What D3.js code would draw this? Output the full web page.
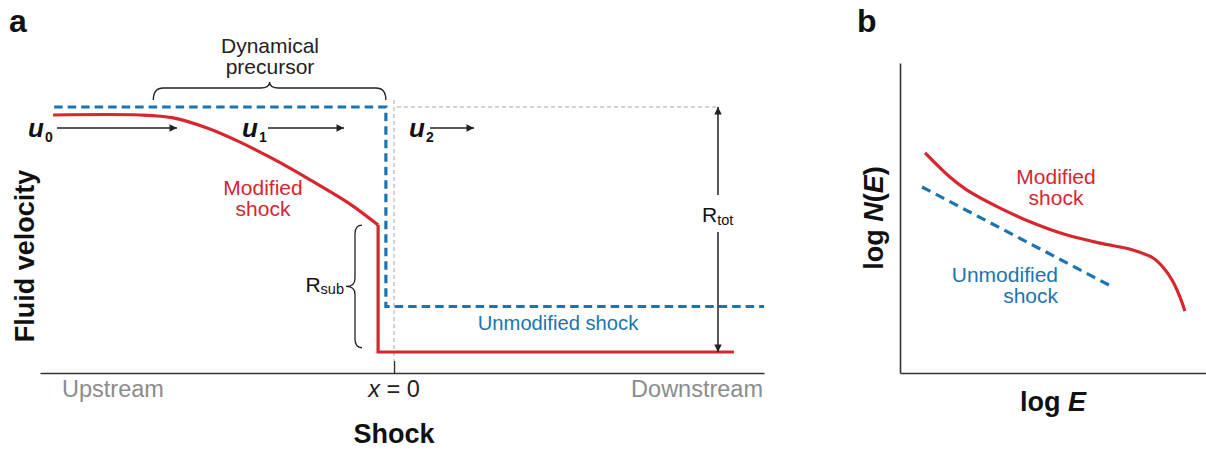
<!DOCTYPE html>
<html>
<head>
<meta charset="utf-8">
<script src="https://cdn.jsdelivr.net/npm/d3@7"></script>
<style>
  html, body { margin: 0; padding: 0; background: #fff; }
  svg { display: block; font-family: "Liberation Sans", Arial, sans-serif; }
</style>
</head>
<body>
<svg id="chart" width="1206" height="450"></svg>
<script>
// ---------------- DATA ----------------
// Panel a: fluid velocity (u / u0) vs position (shock at x = 0)
const modifiedX   = [-0.963, -0.718, -0.624, -0.528, -0.435, -0.336, -0.237, -0.124, -0.045];
const modifiedU   = [0.970, 0.970, 0.959, 0.921, 0.868, 0.801, 0.726, 0.635, 0.556];
const modDownX    = [-0.045, -0.045, 0.96];
const modDownU    = [0.556, 0.079, 0.079];
const unmodX      = [-0.96, -0.023, -0.023, 1.045];
const unmodU      = [1.0, 1.0, 0.25, 0.25];
const xAxisLabels = ["Upstream", "x = 0", "Downstream"];
const velocityLabels = ["u", "u", "u"];
const velocitySubs   = ["0", "1", "2"];

// Panel b: log N(E) vs log E
const specE      = [0.82, 1.63, 2.19, 3.27, 4.35, 5.46, 6.54, 7.61, 8.27, 8.59, 8.89, 9.15, 9.31];
const specMod    = [7.10, 6.32, 5.90, 5.32, 4.84, 4.45, 4.19, 3.97, 3.71, 3.42, 3.00, 2.45, 2.00];
const specUnmodE = [0.72, 6.96];
const specUnmodN = [6.0, 2.77];

// ---------------- STYLE ----------------
const RED = "#d7262e", BLUE = "#1b74b0", INK = "#222", GRAY = "#8c8c8c";
const svg = d3.select("#chart");

const defs = svg.append("defs");
defs.append("marker").attr("id", "arr").attr("viewBox", "0 0 10 10")
  .attr("refX", 10).attr("refY", 5).attr("markerWidth", 13).attr("markerHeight", 7.5)
  .attr("markerUnits", "userSpaceOnUse").attr("orient", "auto-start-reverse")
  .append("path").attr("d", "M0,0 L10,5 L0,10 z").attr("fill", INK);

// ================= PANEL A =================
const xA = d3.scaleLinear().domain([-1, 1.045]).range([40, 764]);
const yA = d3.scaleLinear().domain([0, 1]).range([373, 107]);

const gA = svg.append("g");

const axA = gA.append("g").attr("transform", `translate(0,${yA(0)})`)
  .call(d3.axisBottom(xA).tickValues([0]).tickSizeInner(-12).tickSizeOuter(0).tickFormat(""));
axA.select(".domain").attr("stroke", "#333").attr("stroke-width", 1.6);
axA.selectAll(".tick line").attr("stroke", "#333").attr("stroke-width", 1.4);

gA.append("line").attr("x1", xA(0)).attr("x2", xA(0)).attr("y1", yA(1) - 7).attr("y2", yA(0) - 12)
  .attr("stroke", "#a8a8a8").attr("stroke-width", 1).attr("stroke-dasharray", "4,3");
gA.append("line").attr("x1", xA(0) + 3).attr("x2", 717).attr("y1", yA(1)).attr("y2", yA(1))
  .attr("stroke", "#a8a8a8").attr("stroke-width", 1).attr("stroke-dasharray", "4,3");

const lineA = d3.line().x(d => xA(d[0])).y(d => yA(d[1]));
gA.append("path").datum(d3.zip(unmodX, unmodU)).attr("d", lineA)
  .attr("fill", "none").attr("stroke", BLUE).attr("stroke-width", 3.2)
  .attr("stroke-dasharray", "8.5,5");

gA.append("path").datum(d3.zip(modifiedX, modifiedU))
  .attr("d", d3.line().x(d => xA(d[0])).y(d => yA(d[1])).curve(d3.curveCatmullRom))
  .attr("fill", "none").attr("stroke", RED).attr("stroke-width", 3.2);
gA.append("path").datum(d3.zip(modDownX, modDownU)).attr("d", lineA)
  .attr("fill", "none").attr("stroke", RED).attr("stroke-width", 3.2).attr("stroke-linejoin", "miter");

const axY = 397;
gA.append("text").attr("x", 62).attr("y", axY).attr("font-size", 23.5).attr("fill", GRAY).text(xAxisLabels[0]);
const x0t = gA.append("text").attr("x", xA(0)).attr("y", axY).attr("font-size", 23.5).attr("fill", INK)
  .attr("text-anchor", "middle");
x0t.append("tspan").attr("font-style", "italic").text("x");
x0t.append("tspan").text(" = 0");
gA.append("text").attr("x", 763).attr("y", axY).attr("font-size", 23.5).attr("fill", GRAY)
  .attr("text-anchor", "end").text(xAxisLabels[2]);
gA.append("text").attr("x", xA(0)).attr("y", 443).attr("font-size", 27).attr("font-weight", "bold")
  .attr("text-anchor", "middle").attr("fill", "#111").text("Shock");
gA.append("text").attr("transform", "translate(34,256) rotate(-90)").attr("font-size", 27)
  .attr("font-weight", "bold").attr("text-anchor", "middle").attr("fill", "#111").text("Fluid velocity");

gA.append("text").attr("x", 9).attr("y", 32).attr("font-size", 32).attr("font-weight", "bold")
  .attr("fill", "#111").text("a");

const uArrowY = 128;
const uLabels = [
  { tx: 28, x1: 57, x2: 177 },
  { tx: 242, x1: 268, x2: 344 },
  { tx: 409, x1: 430, x2: 474 }
];
uLabels.forEach((u, i) => {
  const t = gA.append("text").attr("x", u.tx).attr("y", 137).attr("fill", "#111");
  t.append("tspan").attr("font-size", 26).attr("font-weight", "bold").attr("font-style", "italic").text(velocityLabels[i]);
  t.append("tspan").attr("font-size", 14).attr("font-weight", "bold").attr("dy", 5).attr("dx", 1).text(velocitySubs[i]);
  gA.append("line").attr("x1", u.x1).attr("x2", u.x2).attr("y1", uArrowY).attr("y2", uArrowY)
    .attr("stroke", INK).attr("stroke-width", 1.6).attr("marker-end", "url(#arr)");
});

const ann = (g, x, y, lines, color, size, anchor) => {
  lines.forEach((s, i) => g.append("text").attr("x", x).attr("y", y + i * 21)
    .attr("font-size", size).attr("fill", color).attr("text-anchor", anchor || "middle").text(s));
};
ann(gA, 270, 53, ["Dynamical", "precursor"], INK, 21);
ann(gA, 263, 195, ["Modified", "shock"], RED, 21);
ann(gA, 558, 330, ["Unmodified shock"], BLUE, 20.2);

function hBrace(x1, x2, yb, yh, yt, r, r2) {
  const xm = (x1 + x2) / 2;
  return `M${x1},${yb} Q${x1},${yh} ${x1 + r},${yh} L${xm - r2},${yh} Q${xm},${yh} ${xm},${yt}` +
         ` Q${xm},${yh} ${xm + r2},${yh} L${x2 - r},${yh} Q${x2},${yh} ${x2},${yb}`;
}
function vBrace(y1, y2, xb, xh, xt, r, r2) {
  const ym = (y1 + y2) / 2;
  return `M${xb},${y1} Q${xh},${y1} ${xh},${y1 + r} L${xh},${ym - r2} Q${xh},${ym} ${xt},${ym}` +
         ` Q${xh},${ym} ${xh},${ym + r2} L${xh},${y2 - r} Q${xh},${y2} ${xb},${y2}`;
}
gA.append("path").attr("d", hBrace(xA(-0.68), xA(-0.023), 100, 88, 82, 10, 9))
  .attr("fill", "none").attr("stroke", INK).attr("stroke-width", 1.3);
gA.append("path").attr("d", vBrace(yA(0.556), yA(0.095), 362, 355, 346, 9, 8))
  .attr("fill", "none").attr("stroke", INK).attr("stroke-width", 1.3);

const rs = gA.append("text").attr("x", 344).attr("y", 292).attr("text-anchor", "end").attr("fill", "#111");
rs.append("tspan").attr("font-size", 21).text("R");
rs.append("tspan").attr("font-size", 14.5).attr("dy", 2).text("sub");

const rtX = 718;
gA.append("line").attr("x1", rtX).attr("x2", rtX).attr("y1", 195).attr("y2", yA(1))
  .attr("stroke", INK).attr("stroke-width", 1.5).attr("marker-end", "url(#arr)");
gA.append("line").attr("x1", rtX).attr("x2", rtX).attr("y1", 232).attr("y2", yA(0.079))
  .attr("stroke", INK).attr("stroke-width", 1.5).attr("marker-end", "url(#arr)");
const rt = gA.append("text").attr("x", 702).attr("y", 222).attr("fill", "#111");
rt.append("tspan").attr("font-size", 21).text("R");
rt.append("tspan").attr("font-size", 14.5).attr("dy", 3).text("tot");

// ================= PANEL B =================
const xB = d3.scaleLinear().domain([0, 10]).range([900, 1206]);
const yB = d3.scaleLinear().domain([0, 10]).range([373, 63]);
const gB = svg.append("g");

gB.append("g").attr("transform", `translate(0,${yB(0)})`)
  .call(d3.axisBottom(xB).tickValues([]).tickSizeOuter(0));
gB.append("g").attr("transform", `translate(${xB(0)},0)`)
  .call(d3.axisLeft(yB).tickValues([]).tickSizeOuter(0));
gB.selectAll(".domain").attr("stroke", "#333").attr("stroke-width", 1.6);

gB.append("path").datum(d3.zip(specUnmodE, specUnmodN))
  .attr("d", d3.line().x(d => xB(d[0])).y(d => yB(d[1])))
  .attr("fill", "none").attr("stroke", BLUE).attr("stroke-width", 3.2).attr("stroke-dasharray", "9.5,6");
gB.append("path").datum(d3.zip(specE, specMod))
  .attr("d", d3.line().x(d => xB(d[0])).y(d => yB(d[1])).curve(d3.curveCatmullRom))
  .attr("fill", "none").attr("stroke", RED).attr("stroke-width", 3.2);

ann(gB, 1056, 184, ["Modified", "shock"], RED, 21);
ann(gB, 1058, 282, ["Unmodified", "shock"], BLUE, 21, "end");

gB.append("text").attr("x", 857).attr("y", 32).attr("font-size", 32).attr("font-weight", "bold")
  .attr("fill", "#111").text("b");
const lx = gB.append("text").attr("x", 1053).attr("y", 411).attr("font-size", 27).attr("font-weight", "bold")
  .attr("text-anchor", "middle").attr("fill", "#111");
lx.append("tspan").text("log ");
lx.append("tspan").attr("font-style", "italic").text("E");
const ly = gB.append("text").attr("transform", "translate(883,218) rotate(-90)").attr("font-size", 27)
  .attr("font-weight", "bold").attr("text-anchor", "middle").attr("fill", "#111");
ly.append("tspan").text("log ");
ly.append("tspan").attr("font-style", "italic").text("N");
ly.append("tspan").text("(");
ly.append("tspan").attr("font-style", "italic").text("E");
ly.append("tspan").text(")");
</script>
</body>
</html>
